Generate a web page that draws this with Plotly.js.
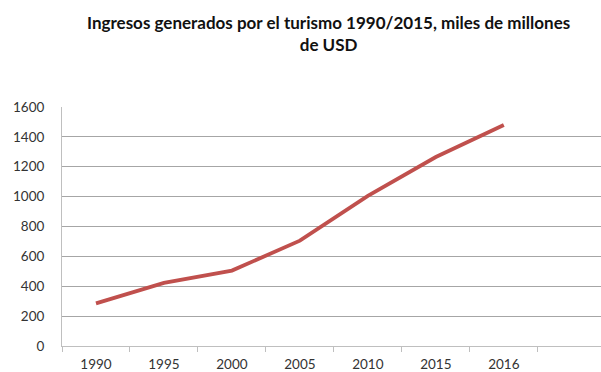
<!DOCTYPE html>
<html>
<head>
<meta charset="utf-8">
<script src="https://cdn.plot.ly/plotly-3.0.1.min.js"></script>
<style>html,body{margin:0;padding:0;background:#fff;}#chart{width:601px;height:372px;}</style>
</head>
<body>
<div id="chart"></div>
<script>
const years = ['1990', '1995', '2000', '2005', '2010', '2015', '2016'];
const ingresos = [285, 422, 505, 705, 1005, 1265, 1480];
const yTicks = [0, 200, 400, 600, 800, 1000, 1200, 1400, 1600];
const titleText = 'Ingresos generados por el turismo 1990/2015, miles de millones<br>de USD';

const trace = {
  x: years,
  y: ingresos,
  type: 'scatter',
  mode: 'lines',
  line: {color: '#c0504d', width: 3.8},
  hoverinfo: 'x+y'
};

const layout = {
  width: 601,
  height: 372,
  margin: {l: 62, r: 0, t: 107, b: 26},
  paper_bgcolor: '#ffffff',
  plot_bgcolor: '#ffffff',
  showlegend: false,
  font: {family: 'Lato, "Open Sans", sans-serif', color: '#333333', size: 13},
  annotations: [{
    text: titleText,
    font: {family: 'Lato, "Open Sans", sans-serif', size: 17, color: '#111111', weight: 'bold'},
    xref: 'paper', yref: 'paper',
    x: 0.495, xanchor: 'center',
    y: 1 + (107 - 10) / 239, yanchor: 'top',
    showarrow: false,
    align: 'center'
  }],
  xaxis: {
    type: 'category',
    categoryorder: 'array',
    categoryarray: years,
    range: [-0.5, 7.43],
    showgrid: false,
    showline: true,
    linecolor: '#bfbfbf',
    linewidth: 1,
    ticks: 'outside',
    tickson: 'boundaries',
    ticklen: 5,
    tickcolor: '#bfbfbf',
    ticklabelstandoff: 6,
    tickfont: {size: 13.5, color: '#333333'},
    fixedrange: true
  },
  yaxis: {
    range: [0, 1600],
    tickvals: yTicks,
    ticktext: yTicks.map(String),
    showgrid: true,
    gridcolor: '#a6a6a6',
    gridwidth: 1,
    zeroline: false,
    showline: true,
    linecolor: '#bfbfbf',
    linewidth: 1,
    ticks: '',
    ticklabelstandoff: 14,
    tickfont: {size: 13.5, color: '#333333'},
    fixedrange: true
  }
};

Plotly.newPlot('chart', [trace], layout, {displayModeBar: false, staticPlot: true});
</script>
</body>
</html>
